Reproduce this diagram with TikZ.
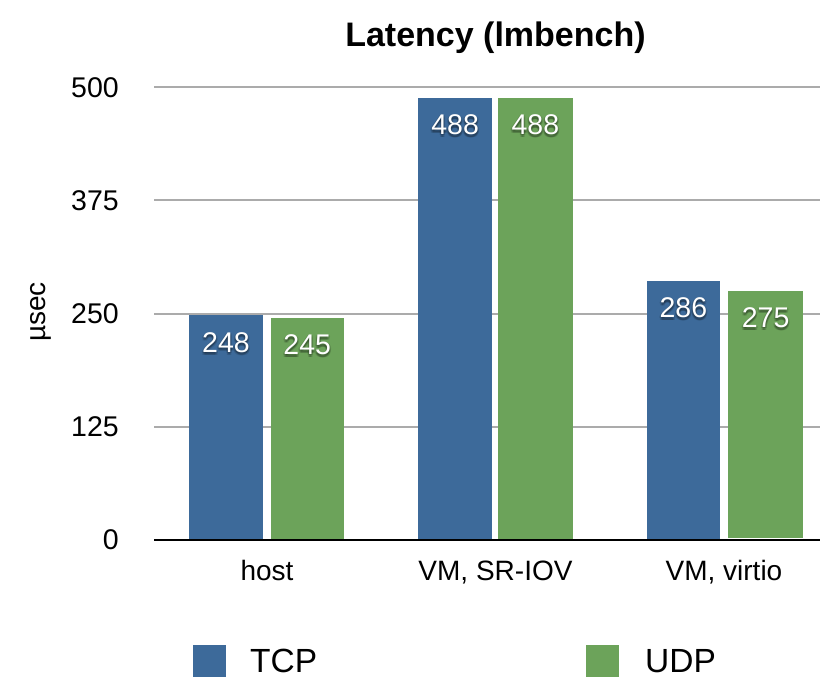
\documentclass[tikz,border=0pt]{standalone}
\usepackage{fontspec}
\setmainfont{Liberation Sans}
\definecolor{tcpblue}{HTML}{3D6A9A}
\definecolor{udpgreen}{HTML}{6CA35A}
\definecolor{gridgray}{HTML}{ABABAB}
\tikzset{
  gridline/.style={draw=gridgray, line width=2pt},
  baseaxis/.style={draw=black, line width=2.6pt},
  ticklabel/.style={anchor=east, inner sep=0pt, font=\fontsize{28.5}{34}\selectfont},
  catlabel/.style={anchor=base, inner sep=0pt, font=\fontsize{28}{34}\selectfont},
  vallabel/.style={anchor=north, inner sep=0pt, text=white, font=\fontsize{28.5}{34}\selectfont},
  valshadow/.style={anchor=north, inner sep=0pt, text=black, opacity=0.13, font=\fontsize{28.5}{34}\selectfont},
  legendtext/.style={anchor=base west, inner sep=0pt, font=\fontsize{33.5}{40}\selectfont},
  titletext/.style={anchor=base, inner sep=0pt, font=\bfseries\fontsize{34}{40}\selectfont}
}
\begin{document}
\begin{tikzpicture}[x=1pt, y=-1pt]
\useasboundingbox (0,0) rectangle (820,677);

% title
\node[titletext] (title) at (495.5,46.7) {Latency (lmbench)};

% horizontal grid and tick labels (0 .. 500 in steps of 125)
\foreach \v/\nm in {125/t125, 250/t250, 375/t375, 500/t500} {
  \draw[gridline] (154,{540-\v*0.9054}) -- (820,{540-\v*0.9054});
  \node[ticklabel] (\nm) at (119,{540-\v*0.9054}) {\v};
}
\node[ticklabel] (t0) at (119,540) {0};

% axis title
\node[rotate=90, inner sep=0pt, font=\fontsize{28}{34}\selectfont] (ytitle) at (41,312) {µsec};

% bars: left edge / right edge / value / colour / label name
\foreach \xl/\xr/\v/\col/\nm in {
    188.7/263.3/248/tcpblue/hosttcp,
    270.7/343.7/245/udpgreen/hostudp,
    418/492.3/488/tcpblue/sriovtcp,
    498/572.7/488/udpgreen/sriovudp,
    647/719.7/286/tcpblue/virtiotcp,
    728.3/803/275/udpgreen/virtioudp} {
  \pgfmathsetmacro{\ytop}{540-\v*0.9054}
  \pgfmathsetmacro{\xc}{(\xl+\xr)/2}
  \fill[\col] (\xl,\ytop) rectangle (\xr,540);
  % soft glow behind the white value, built from faint offset copies
  \foreach \dx/\dy in {-1.5/1, 1.5/1, 0/2.5, -1/3, 1/3, 0/0} {
    \node[valshadow] at (\xc+\dx,\ytop+16.5+\dy) {\v};
  }
  \node[vallabel] (\nm) at (\xc,\ytop+16.5) {\v};
}
% small white gap under the last bar
\fill[white] (727.8,537.6) rectangle (803.5,539);

% base axis
\draw[baseaxis] (154,540) -- (820,540);

% category labels
\node[catlabel] (cathost) at (267,580) {host};
\node[catlabel] (catsriov) at (495.5,580) {VM, SR-IOV};
\node[catlabel] (catvirtio) at (724,580) {VM, virtio};

% legend
\fill[tcpblue] (192.7,645) rectangle (225.7,680);
\node[legendtext] (legtcp) at (250,672.7) {TCP};
\fill[udpgreen] (586,645) rectangle (618.7,680);
\node[legendtext] (legudp) at (645,672.7) {UDP};
\end{tikzpicture}
\end{document}
